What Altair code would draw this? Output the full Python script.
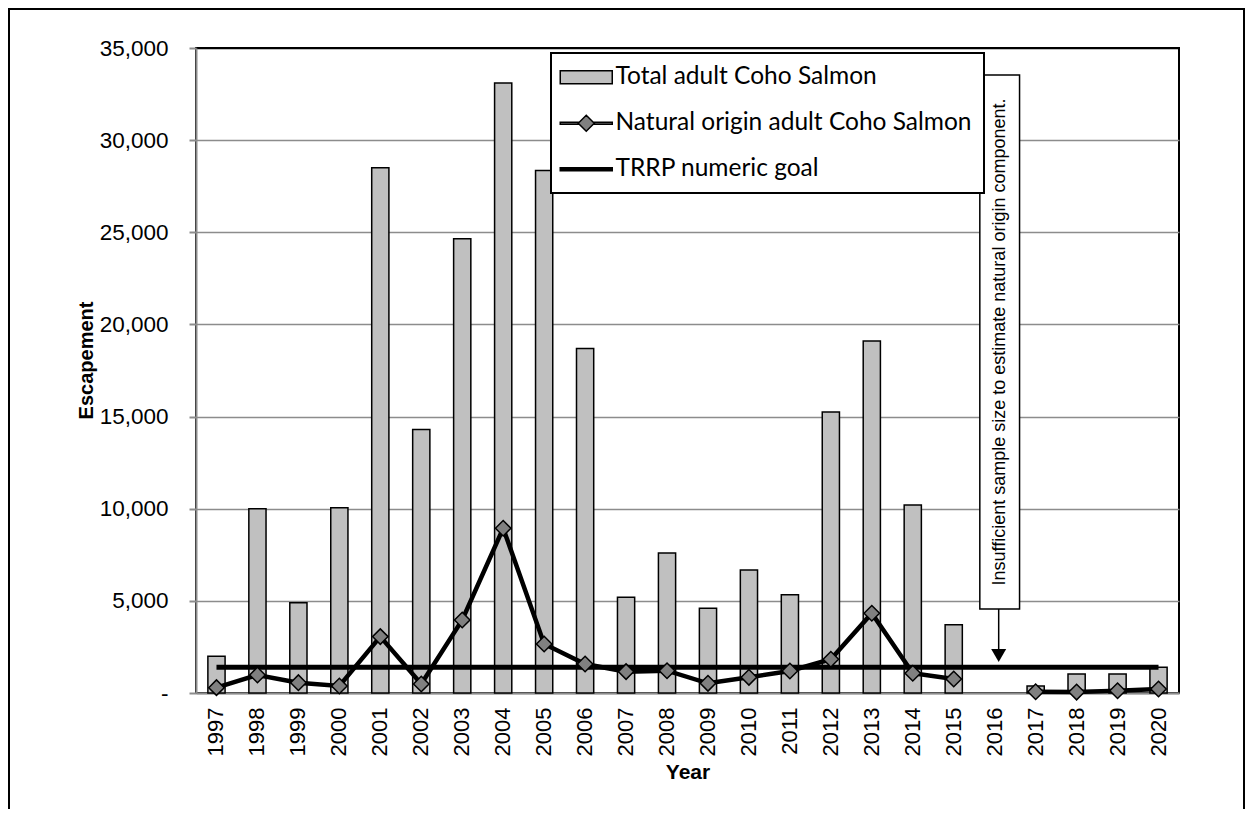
import altair as alt
import pandas as pd

# ---------------- data ----------------
years = ["1997", "1998", "1999", "2000", "2001", "2002", "2003", "2004", "2005", "2006",
         "2007", "2008", "2009", "2010", "2011", "2012", "2013", "2014", "2015", "2016",
         "2017", "2018", "2019", "2020"]
total_adult = [2000, 10000, 4900, 10050, 28500, 14300, 24650, 33100, 28350, 18700,
               5200, 7600, 4600, 6680, 5330, 15250, 19100, 10200, 3700, None,
               380, 1030, 1030, 1400]
natural_adult = [290, 980, 560, 380, 3060, 490, 3960, 8940, 2660, 1575,
                 1160, 1210, 525, 850, 1195, 1830, 4330, 1070, 760, None,
                 70, 50, 125, 215]
trrp_goal = 1400

series_names = ["Total adult Coho Salmon", "Natural origin adult Coho Salmon", "TRRP numeric goal"]
series_colors = ["#C0C0C0", "#808080", "#000000"]
series_outlines = ["#000000", "#000000", "#000000"]
legend_shapes = [
    "M-2.6,-0.65H2.6V0.65H-2.6Z",
    "M-2.6,-0.1H-0.8V0.1H-2.6Z M0.8,-0.1H2.6V0.1H0.8Z M-0.8,0L0,-0.8L0.8,0L0,0.8Z",
    "M-2.6,-0.15H2.6V0.15H-2.6Z",
]
y_ticks = [0, 5000, 10000, 15000, 20000, 25000, 30000, 35000]

note_year = ["2016"]
note_text = ["Insufficient sample size to estimate natural origin component."]
note_top = [33535]
note_bottom = [4558]
note_mid = [19047]
arrow_head = [2035]

df = pd.DataFrame({"Year": years, "Total": total_adult, "Natural": natural_adult})
note_df = pd.DataFrame({"Year": note_year, "label": note_text, "top": note_top,
                        "bottom": note_bottom, "mid": note_mid, "head": arrow_head})

FONT = "Liberation Sans"

color_scale = alt.Scale(domain=series_names, range=series_colors)
stroke_scale = alt.Scale(domain=series_names, range=series_outlines)
shape_scale = alt.Scale(domain=series_names, range=legend_shapes)

leg = alt.Legend(title=None, orient="none", legendX=355, legendY=5, direction="vertical",
                 fillColor="white", strokeColor="black", padding=12, rowPadding=21,
                 symbolSize=400, symbolOffset=11, labelOffset=17, labelFont="Lato",
                 labelFontSize=24.5, labelColor="black", labelLimit=600,
                 symbolStrokeWidth=1.5, symbolOpacity=1)

x_enc = alt.X("Year:N", sort=years,
              scale=alt.Scale(paddingInner=0, paddingOuter=0),
              axis=alt.Axis(title="Year", labelAngle=270, ticks=False, labelPadding=14,
                            labelFontSize=22, labelFont=FONT, labelColor="black",
                            domainColor="#8c8c8c", domainWidth=2, grid=False,
                            titleFont=FONT, titleFontSize=21, titleFontWeight="bold",
                            titlePadding=6, titleColor="black"))

y_scale = alt.Scale(domain=[0, 35000], nice=False)
y_axis = alt.Axis(title="Escapement", values=y_ticks,
                  labelExpr="datum.value === 0 ? '-\u2007' : format(datum.value, ',')",
                  grid=True,
                  gridColor={"condition": {"test": "datum.value === 35000", "value": "black"},
                             "value": "#8c8c8c"},
                  gridWidth=1.5, domainColor="#8c8c8c", domainWidth=2,
                  tickColor="#8c8c8c", tickSize=7, tickWidth=2,
                  labelFont=FONT, labelFontSize=22.5, labelColor="black", labelPadding=21,
                  titleFont=FONT, titleFontSize=20, titleFontWeight="bold",
                  titleColor="black", titlePadding=3, titleY=312)

base = alt.Chart(df)

bars = base.transform_calculate(series="'Total adult Coho Salmon'").mark_bar(
    stroke="black", strokeWidth=1.5, width=alt.RelativeBandSize(0.42)
).encode(
    x=x_enc,
    y=alt.Y("Total:Q", scale=y_scale, axis=y_axis),
    color=alt.Color("series:N", scale=color_scale, legend=leg),
)

goal_line = base.mark_line(color="black", strokeWidth=5).encode(
    x="Year:N", y=alt.datum(trrp_goal)
)

nat_line = base.transform_calculate(
    seg="datum.Year < '2016' ? 'a' : 'b'"
).mark_line(color="black", strokeWidth=4.5).encode(
    x="Year:N", y="Natural:Q", detail="seg:N"
)

nat_points = base.mark_point(shape="diamond", filled=True, size=240, fill="#808080",
                             stroke="black", strokeWidth=1.5, opacity=1).encode(
    x="Year:N", y="Natural:Q"
)

legend_helper = base.transform_calculate(
    series="'Natural origin adult Coho Salmon'"
).transform_filter("false").mark_point(filled=True, opacity=1).encode(
    x="Year:N", y="Natural:Q",
    color=alt.Color("series:N", scale=color_scale, legend=leg),
    stroke=alt.Stroke("series:N", scale=stroke_scale, legend=leg),
    shape=alt.Shape("series:N", scale=shape_scale, legend=leg),
)

note_base = alt.Chart(note_df)
note_box = note_base.mark_bar(fill="white", stroke="black", strokeWidth=1.5, xOffset=5,
                              width=alt.RelativeBandSize(0.97)).encode(
    x="Year:N", y="top:Q", y2="bottom:Q"
)
note_label = note_base.mark_text(angle=270, font=FONT, fontSize=18, color="black",
                                 align="center", baseline="middle", xOffset=5).encode(
    x="Year:N", y="mid:Q", text="label:N"
)
note_arrow = note_base.mark_rule(color="black", strokeWidth=1.5, xOffset=4).encode(
    x="Year:N", y="bottom:Q", y2="head:Q"
)
note_head = note_base.mark_point(shape="triangle-down", filled=True, size=225,
                                 color="black", opacity=1, xOffset=4).encode(
    x="Year:N", y="head:Q"
)

frame = alt.Chart(alt.Data(values=[{}])).mark_rect(
    filled=False, stroke="black", strokeWidth=2
).encode(x=alt.value(-187), x2=alt.value(1048), y=alt.value(-39), y2=alt.value(790))

chart = alt.layer(
    bars, goal_line, nat_line, nat_points, legend_helper,
    note_box, note_label, note_arrow, note_head, frame
).properties(
    width=983, height=645,
    autosize=alt.AutoSizeParams(type="none"),
    padding={"left": 188, "top": 40, "right": 66, "bottom": 116},
).configure_view(
    stroke="black", strokeWidth=2
).configure_legend(
    strokeWidth=2, symbolStrokeWidth=1.5
)

chart.save("out.html", embed_options={"renderer": "svg", "actions": False})
